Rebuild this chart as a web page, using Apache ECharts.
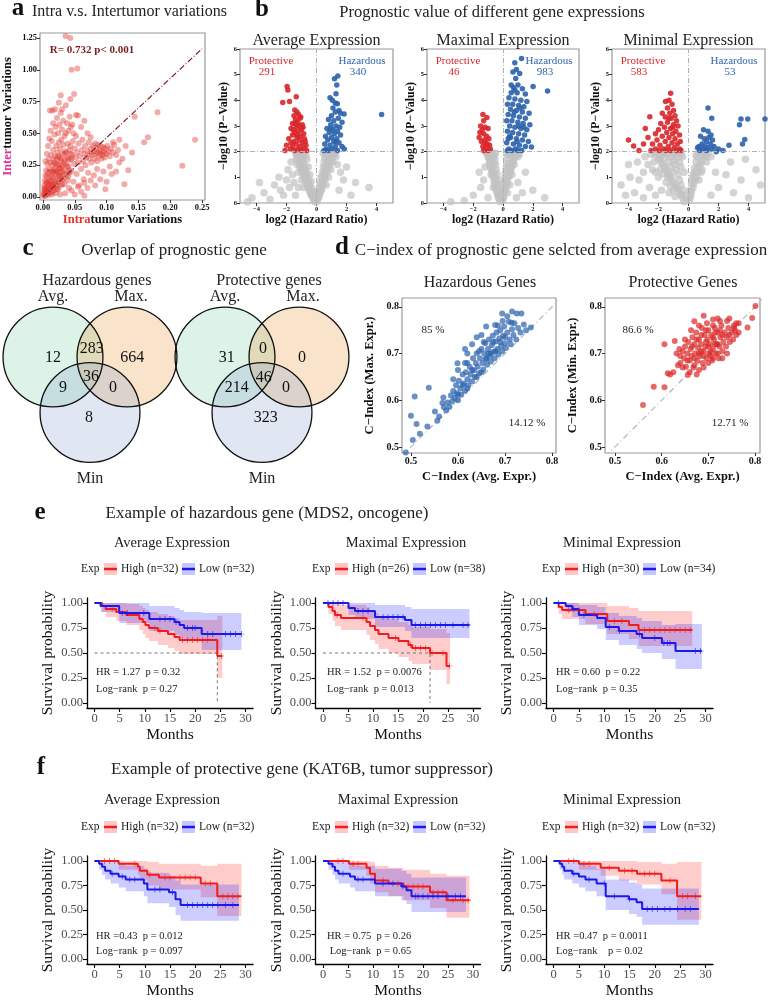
<!DOCTYPE html>
<html><head><meta charset="utf-8">
<script src="https://cdn.jsdelivr.net/npm/echarts@6/dist/echarts.min.js"></script>
<style>html,body{margin:0;padding:0;background:#fff}#c{width:772px;height:1000px}</style>
</head><body><div id="c"></div><script>
// ---------------- DATA ----------------
// Panel a: intra (x) vs inter (y) tumor variations
const aPoints = [
[0.001,0.005],[0.002,0.02],[0.003,0.04],[0.004,0.01],[0.005,0.06],[0.006,0.03],[0.007,0.08],[0.008,0.015],[0.009,0.05],[0.01,0.1],[0.011,0.03],[0.012,0.07],[0.013,0.12],[0.014,0.02],[0.015,0.09],[0.016,0.15],[0.017,0.05],[0.018,0.11],[0.019,0.18],[0.02,0.03],[0.021,0.08],[0.022,0.14],[0.023,0.2],[0.024,0.06],[0.025,0.12],[0.026,0.17],[0.027,0.02],[0.028,0.09],[0.029,0.23],[0.03,0.14],
[0.002,0.09],[0.003,0.13],[0.004,0.17],[0.005,0.21],[0.006,0.12],[0.007,0.26],[0.008,0.19],[0.009,0.3],[0.01,0.22],[0.011,0.16],[0.012,0.27],[0.013,0.33],[0.014,0.2],[0.015,0.25],[0.016,0.37],[0.017,0.29],[0.018,0.22],[0.019,0.32],[0.02,0.26],[0.021,0.4],[0.022,0.3],[0.023,0.35],[0.024,0.25],[0.025,0.43],[0.026,0.31],[0.027,0.38],[0.028,0.28],[0.029,0.45],[0.03,0.34],[0.031,0.2],
[0.032,0.41],[0.033,0.27],[0.034,0.1],[0.035,0.36],[0.036,0.5],[0.037,0.17],[0.038,0.31],[0.039,0.42],[0.04,0.24],[0.041,0.07],[0.042,0.37],[0.043,0.29],[0.044,0.55],[0.045,0.2],[0.046,0.33],[0.047,0.44],[0.048,0.12],[0.049,0.26],[0.05,0.38],[0.051,0.31],[0.052,0.48],[0.053,0.18],[0.054,0.35],[0.055,0.27],[0.056,0.42],[0.057,0.09],[0.058,0.32],[0.06,0.22],[0.061,0.37],[0.062,0.45],
[0.063,0.28],[0.064,0.14],[0.065,0.34],[0.066,0.4],[0.067,0.25],[0.068,0.31],[0.07,0.36],[0.071,0.19],[0.072,0.43],[0.073,0.3],[0.074,0.34],[0.075,0.38],[0.076,0.27],[0.078,0.33],[0.079,0.4],[0.08,0.36],[0.081,0.3],[0.082,0.42],[0.083,0.34],[0.084,0.38],[0.085,0.28],[0.086,0.35],[0.087,0.41],[0.088,0.32],[0.089,0.37],[0.09,0.34],[0.091,0.4],[0.092,0.3],[0.093,0.36],[0.094,0.33],
[0.095,0.39],[0.096,0.35],[0.097,0.31],[0.098,0.38],[0.1,0.34],[0.101,0.4],[0.103,0.36],[0.105,0.32],[0.107,0.38],[0.11,0.35],[0.112,0.41],[0.115,0.33],[0.118,0.37],
[0.004,0.28],[0.006,0.34],[0.008,0.4],[0.01,0.46],[0.012,0.52],[0.014,0.44],[0.016,0.58],[0.018,0.49],[0.02,0.55],[0.022,0.62],[0.024,0.5],[0.026,0.57],[0.028,0.66],[0.03,0.53],[0.032,0.6],[0.034,0.48],[0.038,0.58],[0.04,0.52],[0.042,0.63],[0.046,0.57],[0.048,0.5],[0.011,0.68],[0.015,0.68],[0.019,0.69],[0.03,0.69],[0.025,0.74],[0.052,0.645],[0.055,0.64],[0.028,0.8],[0.043,0.77],[0.049,0.81],[0.036,0.72],
[0.0355,1.266],[0.043,1.25],[0.045,1.0],[0.054,1.01],[0.144,0.63],[0.18,0.665],[0.239,0.45],[0.165,0.47],[0.159,0.43],[0.219,0.245],[0.134,0.21],[0.128,0.1],[0.108,0.18],[0.06,0.55],[0.065,0.6],[0.07,0.5],[0.075,0.47],[0.12,0.45],[0.11,0.43],[0.13,0.4],[0.125,0.3],[0.14,0.35],
[0.035,0.03],[0.045,0.05],[0.05,0.02],[0.055,0.08],[0.06,0.04],[0.065,0.11],[0.07,0.07],[0.075,0.13],[0.08,0.17],[0.085,0.22],[0.09,0.14],[0.095,0.2],[0.1,0.12],[0.105,0.24],[0.115,0.2],[0.12,0.27],[0.065,0.01],[0.082,0.09],[0.098,0.06],
[0.003,0.07],[0.006,0.16],[0.009,0.12],[0.012,0.2],[0.015,0.04],[0.018,0.27],[0.021,0.19],[0.024,0.32],[0.027,0.23],[0.03,0.1],[0.033,0.18],[0.036,0.26],[0.039,0.13],[0.042,0.21],[0.045,0.3],[0.016,0.1],[0.022,0.06],[0.028,0.16],[0.034,0.34],[0.04,0.16],
[0.001,0.03],[0.002,0.06],[0.004,0.05],[0.005,0.11],[0.007,0.04],[0.008,0.09],[0.01,0.06],[0.011,0.13],[0.013,0.09],[0.014,0.16],[0.016,0.07],[0.017,0.2],[0.019,0.13],[0.02,0.21],[0.022,0.1],[0.023,0.26],[0.025,0.16],[0.026,0.22],[0.028,0.19],[0.029,0.3],[0.031,0.25],[0.032,0.14],[0.034,0.29],[0.035,0.21],[0.037,0.35],[0.038,0.24],[0.04,0.3],[0.041,0.19],[0.043,0.4],[0.044,0.34]
];
const aFit = [[0,0],[0.25,1.165]];
const aStat = 'R= 0.732 p< 0.001';
const aXTicks = [0,0.05,0.1,0.15,0.2,0.25];
const aYTicks = [0,0.25,0.5,0.75,1,1.25];

// Panel b: volcano plots [log2 HR, -log10 p]
const volTitles = ['Average Expression','Maximal Expression','Minimal Expression'];
const volProtN = [291,46,583];
const volHazN = [340,983,53];
const volXTicks = [-4,-2,0,2,4];
const volYTicks = [0,1,2,3,4,5,6];
const volGray1 = [[-0.1,0.05],[-0.2,0.15],[-0.3,0.25],[-0.15,0.3],[-0.4,0.35],[-0.25,0.45],[-0.5,0.5],[-0.35,0.6],[-0.6,0.65],[-0.45,0.75],[-0.7,0.8],[-0.55,0.9],[-0.8,0.95],[-0.6,1.05],[-0.9,1.1],[-0.7,1.2],[-1.0,1.25],[-0.75,1.35],[-1.1,1.4],[-0.85,1.5],[-1.15,1.55],[-0.9,1.65],[-1.25,1.7],[-0.95,1.8],[-1.3,1.85],[-1.05,1.9],[-0.8,1.95],[-1.2,1.98],[-1.4,1.95],[-0.65,1.7],[-0.55,1.4],[-0.45,1.1],[-0.35,0.85],[-1.3,1.5],[-1.2,1.2],[-1.0,0.9],[-0.85,0.6],
[0.05,0.1],[0.1,0.25],[0.2,0.35],[0.08,0.45],[0.3,0.5],[0.18,0.6],[0.4,0.7],[0.25,0.8],[0.5,0.9],[0.3,1.0],[0.55,1.1],[0.4,1.2],[0.65,1.3],[0.45,1.4],[0.75,1.5],[0.5,1.6],[0.85,1.65],[0.55,1.75],[0.9,1.8],[0.6,1.9],[1.0,1.95],[0.7,1.98],[1.2,1.9],[1.1,1.6],[0.95,1.3],[0.8,1.0],[0.65,0.7],[1.3,1.8],[0.45,1.95],
[-4.3,0.2],[-3.5,0.4],[-2.8,0.7],[-3.1,0.15],[-2.4,0.5],[-2.0,0.9],[-2.2,0.3],[-1.8,0.6],[-1.6,1.1],[-1.9,1.3],[-1.5,0.8],[-2.5,1.0],[-1.7,1.6],[-4.6,0.05],[-3.8,0.8],[1.5,0.5],[1.8,0.9],[2.3,0.3],[1.6,1.2],[2.6,0.8],[3.5,0.6],[1.4,1.5],[2.0,1.4],[-1.4,0.3],[-1.2,0.6],
[-0.15,0.1],[-0.25,0.3],[-0.35,0.4],[-0.45,0.55],[-0.55,0.7],[-0.65,0.85],[-0.75,1.0],[-0.85,1.15],[-0.95,1.3],[-1.05,1.45],[-1.1,1.6],[-1.15,1.75],[-1.0,1.7],[-0.9,1.35],[-0.8,1.25],[-0.7,0.95],[-0.6,0.8],[-0.5,0.65],[-0.4,0.5],[-0.3,0.35],[-1.25,1.9],[-0.95,1.97],[-0.7,1.85],[-1.35,1.7],
[0.0,0.05],[0.15,0.2],[0.25,0.4],[0.35,0.55],[0.45,0.75],[0.55,0.95],[0.65,1.15],[0.75,1.3],[0.85,1.45],[0.95,1.6],[1.05,1.75],[1.1,1.9],[0.8,1.85],[0.7,1.6],[0.6,1.4],[0.5,1.2],[0.4,1.0],[0.3,0.75],[0.2,0.5],[0.85,1.97],[1.25,1.98],[0.65,1.9]];
const volRed1 = [[-1.96,4.54],[-1.91,4.4],[-2.25,3.92],[-1.8,3.95],[-1.35,4.14],[-1.45,3.62],[-1.3,3.55],[-1.2,3.45],[-1.5,3.4],[-1.1,3.3],[-1.4,3.25],[-1.25,3.15],[-1.6,3.1],[-0.95,3.05],[-1.15,3.0],[-1.35,2.95],[-1.7,2.9],[-1.0,2.85],[-1.2,2.8],[-1.45,2.75],[-0.85,2.7],[-1.6,2.65],[-1.05,2.6],[-1.3,2.55],[-1.85,2.5],[-0.8,2.5],[-1.15,2.45],[-1.5,2.4],[-0.95,2.35],[-1.35,2.3],[-2.0,2.25],[-0.7,2.25],[-1.1,2.2],[-1.6,2.2],[-0.85,2.15],[-1.25,2.1],[-1.75,2.1],[-0.65,2.05],[-1.0,2.05],[-1.45,2.05],[-2.1,2.05],[-0.75,2.4],[-1.55,2.85],[-1.25,2.65],[-0.9,2.95],[-1.4,3.1],[-1.05,3.35],[-1.7,2.35]];
const volBlue1 = [[1.42,4.95],[1.2,4.84],[1.35,4.6],[1.3,4.26],[0.9,4.1],[1.06,4.0],[1.39,3.87],[1.84,3.47],[4.34,3.45],[1.6,3.5],[1.25,3.55],[1.0,3.4],[1.45,3.3],[0.8,3.25],[1.15,3.2],[1.7,3.15],[0.95,3.05],[1.3,3.0],[1.55,2.95],[0.7,2.9],[1.1,2.85],[1.4,2.8],[0.85,2.75],[1.2,2.7],[1.6,2.65],[0.6,2.6],[1.0,2.55],[1.35,2.5],[0.75,2.45],[1.15,2.4],[1.5,2.35],[0.55,2.3],[0.9,2.25],[1.25,2.2],[1.7,2.2],[0.65,2.1],[1.05,2.1],[1.4,2.05],[0.5,2.05],[0.8,2.05],[1.85,2.1],[1.3,2.4],[0.95,2.9],[1.5,3.6],[1.1,3.7],[1.25,3.9]];
const volGray2 = [[-0.2,0.05],[-0.3,0.2],[-0.15,0.3],[-0.4,0.4],[-0.25,0.5],[-0.5,0.6],[-0.3,0.7],[-0.55,0.8],[-0.35,0.9],[-0.6,1.0],[-0.4,1.1],[-0.7,1.2],[-0.45,1.3],[-0.75,1.4],[-0.5,1.5],[-0.85,1.6],[-0.55,1.7],[-0.95,1.75],[-0.6,1.85],[-1.05,1.9],[-0.75,1.95],[-1.15,1.98],[-0.5,1.95],[-0.9,1.5],[-0.8,1.1],[-0.65,0.6],
[-0.05,0.1],[0.05,0.25],[-0.1,0.35],[0.1,0.45],[0.0,0.55],[0.2,0.65],[0.05,0.75],[0.3,0.85],[0.1,0.95],[0.4,1.05],[0.15,1.15],[0.5,1.25],[0.2,1.35],[0.6,1.45],[0.25,1.55],[0.7,1.65],[0.3,1.75],[0.8,1.8],[0.35,1.9],[0.95,1.95],[0.55,1.98],[1.1,1.9],[0.75,1.5],[0.6,1.1],[0.45,0.7],[0.3,0.4],
[-2.0,0.3],[-1.5,0.6],[-1.3,0.9],[-1.0,0.2],[-2.6,0.1],[-1.2,1.4],[1.3,0.4],[1.0,0.8],[1.5,1.2],[2.0,0.5],[0.9,0.2],[-3.5,0.05],[2.8,0.2],[-1.6,1.2],
[-0.25,0.15],[-0.35,0.3],[-0.45,0.5],[-0.55,0.65],[-0.6,0.85],[-0.7,1.05],[-0.75,1.25],[-0.85,1.4],[-0.9,1.65],[-1.0,1.8],[-0.65,1.75],[-0.6,1.55],[-0.55,1.2],[-0.5,0.95],[-0.4,0.75],[-0.85,1.95],[-1.05,1.97],
[0.0,0.15],[0.05,0.4],[0.15,0.55],[0.25,0.7],[0.35,1.0],[0.45,1.2],[0.55,1.35],[0.65,1.6],[0.75,1.75],[0.9,1.85],[0.45,1.85],[0.4,1.55],[0.3,1.3],[0.2,1.05],[0.15,0.85],[0.7,1.97],[1.0,1.8],[0.25,1.95]];
const volRed2 = [[-1.35,3.45],[-1.08,3.33],[-1.3,3.2],[-1.5,3.0],[-1.2,2.95],[-1.0,2.9],[-1.55,2.75],[-1.3,2.7],[-1.1,2.6],[-1.6,2.55],[-0.95,2.5],[-1.25,2.45],[-1.45,2.4],[-1.05,2.3],[-0.9,2.25],[-1.35,2.2],[-1.15,2.15],[-0.85,2.1],[-1.0,2.05],[-1.3,2.05],[-1.2,2.35],[-1.4,2.85]];
const volBlue2 = [[1.24,5.63],[0.79,5.46],[0.67,5.1],[1.12,5.05],[0.9,5.2],[2.02,4.54],[2.99,4.36],[1.91,2.18],[0.85,4.85],[1.0,4.6],[0.7,4.5],[1.3,4.45],[0.55,4.3],[0.95,4.3],[1.5,4.25],[0.4,4.1],[0.8,4.05],[1.2,4.0],[1.6,3.95],[0.3,3.85],[0.65,3.85],[1.05,3.8],[1.4,3.75],[0.5,3.65],[0.9,3.6],[1.3,3.55],[1.75,3.5],[0.35,3.45],[0.7,3.4],[1.1,3.35],[1.5,3.3],[0.25,3.2],[0.6,3.2],[1.0,3.15],[1.35,3.1],[1.8,3.05],[0.45,3.0],[0.8,2.95],[1.2,2.9],[1.6,2.85],[0.3,2.8],[0.65,2.75],[1.05,2.7],[1.45,2.65],[0.5,2.55],[0.9,2.5],[1.3,2.45],[1.7,2.4],[0.25,2.35],[0.7,2.3],[1.1,2.25],[1.5,2.2],[0.4,2.1],[0.85,2.1],[1.25,2.05],[0.3,2.05],[0.6,2.05],[1.0,2.05],[0.45,2.6],[0.75,3.55],[1.15,3.7],[0.55,4.6],[0.35,2.5],[0.95,2.4],[1.4,2.95],[0.8,4.4],[1.05,3.0]];
const volGray3 = [[-0.3,0.05],[-0.4,0.2],[-0.2,0.3],[-0.6,0.4],[-0.35,0.5],[-0.8,0.6],[-0.5,0.7],[-1.0,0.8],[-0.6,0.9],[-1.2,1.0],[-0.7,1.1],[-1.4,1.2],[-0.8,1.3],[-1.6,1.4],[-0.9,1.5],[-1.8,1.55],[-1.0,1.65],[-2.0,1.7],[-1.2,1.8],[-2.2,1.85],[-1.4,1.9],[-0.7,1.95],[-1.7,1.97],[-2.5,1.9],[-1.1,1.2],[-1.5,0.8],[-2.0,1.0],[-2.4,1.3],[-1.8,0.5],[-2.7,1.5],[-3.0,1.2],[-2.6,0.6],[-3.3,0.9],[-3.6,0.4],[-3.9,1.0],[-4.2,0.3],[-4.5,0.7],[-3.0,0.2],[-2.2,0.3],[-1.3,0.4],[-0.9,0.25],[-3.4,1.6],[-2.9,1.8],[-4.0,1.5],[-0.5,1.4],[-0.4,1.8],[-1.9,1.3],[-1.6,1.75],
[0.05,0.1],[0.15,0.3],[0.1,0.5],[0.3,0.6],[0.2,0.8],[0.45,0.9],[0.3,1.1],[0.6,1.2],[0.4,1.35],[0.75,1.45],[0.5,1.6],[0.9,1.65],[0.6,1.8],[1.1,1.85],[0.7,1.95],[1.3,1.95],[0.9,1.3],[1.2,1.6],[0.7,0.9],[1.5,1.8],
[2.0,0.6],[2.5,1.1],[3.0,0.4],[3.5,0.9],[4.0,0.2],[4.5,1.3],[2.8,1.6],[1.8,1.2],[1.5,0.3],[4.8,0.7],[3.8,1.7],
[-0.5,0.3],[-0.7,0.55],[-0.9,0.7],[-1.1,0.9],[-1.3,1.1],[-1.5,1.3],[-1.7,1.5],[-1.9,1.7],[-2.1,1.95],[-0.8,1.75],[-1.0,1.95],[-1.3,1.6],[-1.6,1.95],[-1.2,1.4],[-0.6,1.6],[-0.9,1.9],[-1.4,1.0],[-1.7,1.15],[-2.3,1.6],[-1.0,0.5],[-0.3,1.2],[-0.5,1.9],[-1.9,1.85],[-2.2,1.2],[-1.2,0.65],
[0.1,0.2],[0.2,0.45],[0.35,0.75],[0.5,1.0],[0.6,1.4],[0.8,1.55],[0.95,1.8],[0.5,1.85],[0.4,1.2],[1.0,1.98],[0.85,1.2],[1.2,1.8],[0.25,0.95]];
const volRed3 = [[-4.0,2.45],[-3.66,2.22],[-3.3,2.05],[-2.88,2.9],[-2.58,3.36],[-1.75,3.5],[-1.19,4.28],[-1.53,3.95],[-2.7,2.55],[-2.2,2.7],[-2.4,2.3],[-3.0,2.3],[-1.3,4.0],[-1.1,3.85],[-1.4,3.7],[-1.0,3.6],[-1.25,3.5],[-0.9,3.4],[-1.55,3.35],[-1.15,3.3],[-0.8,3.2],[-1.4,3.15],[-1.85,3.1],[-1.0,3.05],[-0.7,3.0],[-1.6,2.95],[-1.2,2.9],[-2.0,2.85],[-0.85,2.8],[-1.45,2.75],[-1.05,2.7],[-0.6,2.65],[-1.75,2.6],[-1.3,2.55],[-0.9,2.5],[-2.1,2.45],[-0.55,2.4],[-1.55,2.4],[-1.1,2.35],[-0.75,2.3],[-1.9,2.25],[-1.35,2.2],[-0.95,2.15],[-0.6,2.1],[-2.2,2.1],[-1.65,2.1],[-1.2,2.05],[-0.8,2.05],[-0.5,2.05],[-1.5,2.05],[-1.95,2.05],[-2.5,2.05],[-1.05,2.95],[-1.3,3.3]];
const volBlue3 = [[1.3,3.7],[1.55,3.3],[3.5,3.27],[3.95,3.27],[5.1,3.27],[3.4,3.05],[3.75,2.47],[3.6,2.3],[2.7,2.25],[1.0,2.85],[0.8,2.6],[1.35,2.55],[1.6,2.45],[1.2,2.4],[0.9,2.3],[1.45,2.3],[0.7,2.2],[1.1,2.2],[1.7,2.2],[0.6,2.15],[1.3,2.15],[0.95,2.1],[1.55,2.1],[2.0,2.1],[0.75,2.05],[1.2,2.05],[1.85,2.0],[2.3,2.05],[1.05,2.5],[1.5,2.65],[1.3,2.8]];

// Panel c: Venn counts, regions: [Avg only, Avg∩Max, Max only, Avg∩Min, all, Max∩Min, Min only]
const vennSets = ['Avg.','Max.','Min'];
const vennHaz = [12,283,664,9,36,0,8];
const vennProt = [31,0,0,214,46,0,323];

// Panel d: C-index pairs [avg, max/min]
const dHaz = [[0.489,0.488],[0.5,0.567],[0.504,0.515],[0.508,0.608],[0.512,0.549],[0.519,0.528],[0.535,0.544],[0.538,0.627],[0.551,0.576],[0.56,0.565],[0.556,0.556],[0.569,0.606],[0.567,0.594],[0.599,0.679],[0.615,0.71],[0.62,0.68],[0.694,0.786],[0.725,0.786],[0.735,0.786],[0.755,0.756],[0.714,0.766],[0.679,0.761],
[0.575,0.578],[0.578,0.595],[0.582,0.586],[0.585,0.61],[0.588,0.598],[0.59,0.62],[0.593,0.605],[0.596,0.632],[0.598,0.615],[0.6,0.6],[0.602,0.642],[0.605,0.625],[0.607,0.612],[0.61,0.655],[0.612,0.636],[0.615,0.62],[0.617,0.66],[0.62,0.645],[0.622,0.632],[0.625,0.672],[0.627,0.655],[0.63,0.64],[0.632,0.69],[0.634,0.664],[0.636,0.65],[0.638,0.68],[0.64,0.7],[0.642,0.672],[0.645,0.658],[0.647,0.69],[0.65,0.71],[0.652,0.68],[0.654,0.666],[0.656,0.7],[0.658,0.722],[0.66,0.688],[0.662,0.676],[0.664,0.71],[0.666,0.73],[0.668,0.695],[0.67,0.683],[0.672,0.718],[0.674,0.738],[0.676,0.704],[0.678,0.69],[0.68,0.726],[0.682,0.745],[0.684,0.71],[0.686,0.698],[0.688,0.732],[0.69,0.75],[0.692,0.716],[0.694,0.705],[0.696,0.738],[0.698,0.758],[0.7,0.722],[0.702,0.712],[0.705,0.745],[0.708,0.768],[0.71,0.73],[0.712,0.72],[0.715,0.752],[0.718,0.74],[0.72,0.765],[0.724,0.73],[0.728,0.755],[0.733,0.745],[0.74,0.762],[0.745,0.75],[0.62,0.7],[0.63,0.72],[0.64,0.735],[0.65,0.74],[0.66,0.758],[0.615,0.68],[0.6,0.665],[0.59,0.645],[0.645,0.705],[0.655,0.725],[0.665,0.7],[0.675,0.725],[0.685,0.76],[0.695,0.77],[0.705,0.78],[0.715,0.79],[0.66,0.69],[0.67,0.7],[0.68,0.705],[0.69,0.725],[0.7,0.735],[0.64,0.65],[0.65,0.66],[0.63,0.665],[0.62,0.625],[0.61,0.632],[0.6,0.612],[0.57,0.585]];
const dProt = [[0.56,0.59],[0.583,0.629],[0.606,0.628],[0.606,0.72],[0.613,0.658],[0.618,0.655],[0.628,0.727],[0.67,0.769],[0.69,0.781],[0.801,0.802],[0.794,0.776],[0.784,0.756],[0.765,0.765],[0.656,0.654],[0.625,0.66],[0.632,0.7],[0.64,0.695],[0.745,0.775],[0.755,0.76],[0.72,0.775],[0.71,0.773],[0.675,0.655],
[0.64,0.68],[0.645,0.705],[0.648,0.69],[0.65,0.715],[0.652,0.672],[0.655,0.7],[0.657,0.725],[0.66,0.685],[0.662,0.71],[0.664,0.695],[0.666,0.735],[0.668,0.67],[0.67,0.72],[0.672,0.7],[0.674,0.745],[0.676,0.685],[0.678,0.712],[0.68,0.73],[0.682,0.695],[0.684,0.72],[0.686,0.755],[0.688,0.68],[0.69,0.705],[0.692,0.74],[0.694,0.715],[0.696,0.69],[0.698,0.73],[0.7,0.75],[0.702,0.7],[0.704,0.72],[0.706,0.74],[0.708,0.685],[0.71,0.71],[0.712,0.73],[0.714,0.755],[0.716,0.7],[0.718,0.72],[0.72,0.745],[0.722,0.69],[0.724,0.715],[0.726,0.735],[0.728,0.76],[0.73,0.705],[0.732,0.725],[0.735,0.745],[0.738,0.715],[0.74,0.735],[0.743,0.755],[0.746,0.725],[0.75,0.745],[0.753,0.73],[0.757,0.75],[0.76,0.74],[0.765,0.745],[0.66,0.66],[0.67,0.675],[0.68,0.665],[0.69,0.67],[0.7,0.68],[0.71,0.69],[0.72,0.7],[0.73,0.69],[0.74,0.7],[0.675,0.73],[0.685,0.705],[0.695,0.725],[0.705,0.705],[0.715,0.72],[0.725,0.75],[0.665,0.715],[0.655,0.685],[0.645,0.67],[0.635,0.675],[0.638,0.71],[0.65,0.73],[0.663,0.75],[0.68,0.76],[0.697,0.765],[0.71,0.76],[0.725,0.77],[0.74,0.77],[0.76,0.765],[0.7,0.715],[0.69,0.695],[0.68,0.7],[0.67,0.69],[0.71,0.735],[0.72,0.72],[0.73,0.74],[0.745,0.74],[0.755,0.755],[0.695,0.75],[0.685,0.74],[0.705,0.695],[0.715,0.745]];
const dDiag = [[0.4,0.4],[0.9,0.9]];
const dPct = [['85 %','14.12 %'],['86.6 %','12.71 %']];
const dTicks = [0.5,0.6,0.7,0.8];

// Panels e/f: Kaplan-Meier steps (t = step start months, s = survival, lo/hi = 95% CI, end = last follow-up, cens = censor times)
const e1High = {t:[0,1.5,2.2,4.3,6.3,8.9,9.6,10.1,10.8,12.6,14.6,15.9,16.9,24.4], s:[1,0.97,0.94,0.91,0.88,0.84,0.81,0.78,0.75,0.72,0.69,0.66,0.63,0.47], lo:[1,0.91,0.86,0.82,0.78,0.73,0.69,0.65,0.62,0.58,0.55,0.52,0.49,0.25], hi:[1,1,1,1,0.99,0.97,0.95,0.93,0.91,0.89,0.87,0.85,0.83,0.87], end:25.4, cens:[3.5,12,13,17.5,18.5,19.5,20.5,21.5,22.5,25.2]};
const e1Low = {t:[0,1.2,4.9,10.9,15.9,16.9,17.8,21.3], s:[1,0.97,0.9,0.84,0.81,0.78,0.75,0.69], lo:[1,0.91,0.8,0.72,0.68,0.65,0.62,0.53], hi:[1,1,1,0.97,0.95,0.93,0.91,0.9], end:29.2, cens:[5.5,6.5,9.8,13,14,15,16.2,18.5,19.5,20,22.5,23.5,26,27,28,29.2]};
const e2High = {t:[0,1.1,1.9,2.4,3.6,8.7,9.4,10.4,11.1,13.1,15.1,17.1,17.8,21.4,24.7], s:[1,0.96,0.92,0.88,0.85,0.81,0.77,0.73,0.69,0.65,0.62,0.58,0.55,0.5,0.37], lo:[1,0.89,0.82,0.77,0.73,0.68,0.63,0.59,0.54,0.5,0.46,0.42,0.39,0.33,0.19], hi:[1,1,1,0.99,0.98,0.96,0.93,0.9,0.87,0.84,0.81,0.78,0.76,0.74,0.7], end:25.4, cens:[2.8,8,14.5,17.5,18.5,19.5,20.5,21.8,24,25.3]};
const e2Low = {t:[0,5.1,6.4,10.4,16.4,17.7], s:[1,0.95,0.92,0.86,0.83,0.78], lo:[1,0.88,0.84,0.76,0.72,0.65], hi:[1,1,1,0.98,0.96,0.94], end:29.3, cens:[1,2,3,4,7,8,9,12,13,14,15,16,18.5,19.5,20.5,21.5,22.5,23.5,24.5,26,28,29]};
const e3High = {t:[0,1.0,1.7,6.3,10.6,14.9,16.8], s:[1,0.96,0.93,0.89,0.82,0.78,0.73], lo:[1,0.89,0.84,0.79,0.69,0.64,0.57], hi:[1,1,1,1,0.97,0.95,0.92], end:27.4, cens:[3,5,8,12,13.5,18,19,20,21,22,23,24,25,26,27]};
const e3Low = {t:[0,2.4,3.7,5.0,8.6,10.3,12.9,16.4,17.5,21.4,24.1], s:[1,0.97,0.94,0.88,0.85,0.76,0.72,0.69,0.65,0.6,0.52], lo:[1,0.91,0.86,0.78,0.74,0.63,0.58,0.54,0.5,0.44,0.34], hi:[1,1,1,0.98,0.96,0.9,0.87,0.85,0.82,0.78,0.79], end:29.3, cens:[1,4,6,11,13,17,20,21.8,22.5,23,28,29]};
const f1High = {t:[0,4.8,8.6,9.0,10.5,12.8,21.1,24.4], s:[1,0.97,0.94,0.9,0.86,0.83,0.77,0.64], lo:[1,0.91,0.86,0.8,0.75,0.71,0.63,0.44], hi:[1,1,1,1,0.99,0.97,0.95,0.97], end:29.2, cens:[2,3,4,8,11,14,15,17,18,19,20,22,23,25.5,26.5,27.5,28.5]};
const f1Low = {t:[0,0.9,1.5,2.1,3.2,4.8,6.2,9.8,10.5,14.8,16.1,17.1], s:[1,0.97,0.94,0.9,0.87,0.84,0.81,0.77,0.71,0.68,0.61,0.55], lo:[1,0.91,0.86,0.81,0.77,0.73,0.69,0.64,0.57,0.53,0.45,0.39], hi:[1,1,1,1,0.99,0.97,0.95,0.92,0.88,0.85,0.8,0.76], end:28.7, cens:[3.5,5.5,7,8,12,13,15.5,18.5,19.5,20.5,21.5,22.5,23.5,24.5,26,27.5]};
const f2High = {t:[0,5.2,8.7,9.4,10.4,13.1,16.1,21.4,24.7], s:[1,0.97,0.93,0.87,0.8,0.77,0.74,0.68,0.6], lo:[1,0.91,0.85,0.77,0.68,0.64,0.6,0.52,0.42], hi:[1,1,1,0.99,0.95,0.93,0.91,0.87,0.85], end:29.3, cens:[3,4,6,7,12,15,17,18,19,20,22,23,24,26,28,29]};
const f2Low = {t:[0,1.1,1.9,2.4,3.1,5.4,6.4,10.4,15.7,16.7,17.7], s:[1,0.97,0.94,0.9,0.87,0.84,0.81,0.77,0.74,0.7,0.64], lo:[1,0.91,0.86,0.81,0.77,0.73,0.69,0.64,0.6,0.56,0.48], hi:[1,1,1,1,0.99,0.97,0.95,0.92,0.9,0.87,0.83], end:28.6, cens:[4,7,8,12,14,16,18.5,19,20,21,22,23,25,26.5,27.5]};
const f3High = {t:[0,5.0,9.3,12.9,16.5,21.3,24.4], s:[1,0.97,0.93,0.9,0.87,0.8,0.64], lo:[1,0.91,0.85,0.8,0.76,0.66,0.4], hi:[1,1,1,1,0.99,0.97,0.99], end:29.2, cens:[3,4,6,7,11,14,15.5,18,19,20,23,25.5,26.5,28]};
const f3Low = {t:[0,1.2,1.7,2.1,3.7,5.0,6.3,8.5,10.3,14.9,16.4,17.5], s:[1,0.97,0.94,0.9,0.87,0.84,0.81,0.77,0.64,0.61,0.58,0.51], lo:[1,0.91,0.86,0.81,0.77,0.73,0.69,0.64,0.5,0.46,0.43,0.35], hi:[1,1,1,1,0.99,0.97,0.95,0.92,0.81,0.78,0.76,0.72], end:28.7, cens:[4,7,10,12,15,18.5,19.5,20.5,22,23,24.5,26,27]};
const kmTitles = ['Average Expression','Maximal Expression','Minimal Expression'];
const eN = [['High (n=32)','Low (n=32)'],['High (n=26)','Low (n=38)'],['High (n=30)','Low (n=34)']];
const fN = [['High (n=32)','Low (n=32)'],['High (n=32)','Low (n=32)'],['High (n=32)','Low (n=32)']];
const eStats = [['HR = 1.27  p = 0.32','Log\u2212rank  p = 0.27'],['HR = 1.52  p = 0.0076','Log\u2212rank  p = 0.013'],['HR = 0.60  p = 0.22','Log\u2212rank  p = 0.35']];
const fStats = [['HR =0.43  p = 0.012','Log\u2212rank  p = 0.097'],['HR = 0.75  p = 0.26',' Log\u2212rank  p = 0.65'],['HR =0.47  p = 0.0011','Log\u2212rank    p = 0.02']];
const eMedian = [24.4, 21.4, null];
const kmXTicks = [0,5,10,15,20,25,30];
const kmYTicks = [0,0.25,0.5,0.75,1];

// ---------------- LAYOUT / BUILD ----------------
const SERIF = 'Liberation Serif';
const grids = [], xAxes = [], yAxes = [], series = [], graphic = [];
function addGrid(box, xa, ya) {
  const i = grids.length;
  grids.push(Object.assign({show:false}, box));
  xAxes.push(Object.assign({gridIndex:i, type:'value', splitLine:{show:false}}, xa));
  yAxes.push(Object.assign({gridIndex:i, type:'value', splitLine:{show:false}}, ya));
  return i;
}
function txt(x, y, text, size, o) {
  o = o || {};
  graphic.push({type:'text', x:x, y:y, silent:true, z:50, style:{text:text, fill:o.fill||'#222',
    font:(o.weight||'normal')+' '+size+'px "'+SERIF+'"', textAlign:o.align||'center', textVerticalAlign:'middle'}});
}
function frameAxis(min, max, ticks, fmt, lblSize, name, gap, nameSize, rich) {
  return {min:min, max:max, axisLine:{show:false, onZero:false},
    axisTick:{show:true, customValues:ticks, length:3, lineStyle:{color:'#333', width:1}},
    axisLabel:{customValues:ticks, formatter:fmt, fontFamily:SERIF, fontWeight:'bold', fontSize:lblSize, color:'#111', margin:3},
    name:name, nameLocation:'middle', nameGap:gap,
    nameTextStyle:{fontFamily:SERIF, fontWeight:'bold', fontSize:nameSize, color:'#111', rich:rich||{}}};
}
const frameBox = {show:true, borderColor:'#9a9a9a', borderWidth:1.2};
const minus = v => (v < 0 ? '\u2212' + Math.abs(v) : String(v));

// Panel a
txt(18, 9, 'a', 25, {weight:'bold', fill:'#111'});
txt(32, 12, 'Intra v.s. Intertumor variations', 16, {align:'left'});
const ga = addGrid(Object.assign({left:37, top:33, width:168, height:167}, frameBox),
  frameAxis(-0.0046, 0.2546, aXTicks, v => v.toFixed(2), 8.5, '{r|Intra}tumor Variations', 12, 12.5,
    {r:{color:'#e8302a', fontWeight:'bold', fontSize:12.5, fontFamily:SERIF}}),
  frameAxis(-0.024, 1.289, aYTicks, v => v.toFixed(2), 8.5, '{m|Inter}tumor Variations', 26, 12.5,
    {m:{color:'#e0339b', fontWeight:'bold', fontSize:12.5, fontFamily:SERIF}}));
series.push({type:'scatter', xAxisIndex:ga, yAxisIndex:ga, data:aPoints, symbolSize:6,
  itemStyle:{color:'#e0362f', opacity:0.42}, silent:true});
series.push({type:'line', xAxisIndex:ga, yAxisIndex:ga, data:aFit, symbol:'none', silent:true, z:5,
  lineStyle:{color:'#7b1a1a', width:1.1, type:[6,2,1,2]}});
txt(92, 50, aStat, 11, {weight:'bold', fill:'#7a1c1c'});

// Panel b
txt(262, 10, 'b', 25, {weight:'bold', fill:'#111'});
txt(492, 13, 'Prognostic value of different gene expressions', 16.5);
const volBoxes = [{left:240, width:153},{left:427, width:152},{left:612, width:153}];
const volGray = [volGray1, volGray2, volGray3], volRed = [volRed1, volRed2, volRed3], volBlue = [volBlue1, volBlue2, volBlue3];
volBoxes.forEach((b, k) => {
  const g = addGrid(Object.assign({left:b.left, top:49, width:b.width, height:154}, frameBox),
    frameAxis(-5.1, 5.1, volXTicks, minus, 6.5, 'log2 (Hazard Ratio)', 9, 12),
    frameAxis(0, 6, volYTicks, minus, 6.5, '\u2212log10 (P\u2212Value)', 8, 12));
  series.push({type:'scatter', xAxisIndex:g, yAxisIndex:g, data:volGray[k], symbolSize:7.5, silent:true,
    itemStyle:{color:'#c2c2c2', opacity:0.7},
    markLine:{silent:true, symbol:['none','none'], label:{show:false},
      lineStyle:{color:'#b0b0b0', width:1, type:[5,2,1,2]}, data:[{xAxis:0},{yAxis:2}]}});
  series.push({type:'scatter', xAxisIndex:g, yAxisIndex:g, data:volRed[k], symbolSize:5.5, silent:true,
    itemStyle:{color:'#d9262b', opacity:0.9}});
  series.push({type:'scatter', xAxisIndex:g, yAxisIndex:g, data:volBlue[k], symbolSize:5.5, silent:true,
    itemStyle:{color:'#2b62ad', opacity:0.9}});
  const cx = b.left + b.width / 2;
  txt(cx, 41, volTitles[k], 16);
  txt(b.left + 31, 61, 'Protective', 11, {fill:'#d9262b'});
  txt(b.left + 27, 72, String(volProtN[k]), 11, {fill:'#d9262b'});
  txt(b.left + 122, 61, 'Hazardous', 11, {fill:'#2e63ad'});
  txt(b.left + 118, 72, String(volHazN[k]), 11, {fill:'#2e63ad'});
});

// Panel c: Venn diagrams
txt(28, 249, 'c', 25, {weight:'bold', fill:'#111'});
txt(174, 251, 'Overlap of prognostic gene', 17);
const vennCircles = [[-1,0,1.35,0],[1,0,1.35,1],[0,-1.5,1.35,2]];
const vennFill = ['rgba(123,207,163,0.26)','rgba(231,147,55,0.26)','rgba(135,163,203,0.26)'];
const vennPosHaz = [[-1.0,-0.03],[0.05,0.22],[1.14,-0.03],[-0.73,-0.84],[0.03,-0.54],[0.62,-0.84],[-0.03,-1.65]];
const vennPosProt = [[-0.95,-0.03],[0.03,0.22],[1.08,-0.03],[-0.68,-0.84],[0.05,-0.57],[0.65,-0.84],[0.1,-1.65]];
[[1.2, vennHaz, vennPosHaz, 'Hazardous genes'],[173.2, vennProt, vennPosProt, 'Protective genes']].forEach((v, k) => {
  const g = addGrid({left:v[0], top:301.5, width:177.6, height:166.5},
    {min:-2.4, max:2.4, show:false}, {min:-3, max:1.5, show:false});
  series.push({type:'custom', xAxisIndex:g, yAxisIndex:g, data:vennCircles, silent:true, z:2,
    renderItem:(p, api) => {
      const c = api.coord([api.value(0), api.value(1)]);
      const r = api.size([api.value(2), 0])[0];
      return {type:'circle', shape:{cx:c[0], cy:c[1], r:r}, style:{fill:vennFill[api.value(3)], stroke:null}};
    }});
  series.push({type:'custom', xAxisIndex:g, yAxisIndex:g, data:vennCircles, silent:true, z:3,
    renderItem:(p, api) => {
      const c = api.coord([api.value(0), api.value(1)]);
      const r = api.size([api.value(2), 0])[0];
      return {type:'circle', shape:{cx:c[0], cy:c[1], r:r}, style:{fill:null, stroke:'#111', lineWidth:1.3}};
    }});
  series.push({type:'scatter', xAxisIndex:g, yAxisIndex:g, silent:true, z:4, symbolSize:1,
    itemStyle:{color:'rgba(0,0,0,0)'},
    data:v[2].map((p, i) => [p[0], p[1], v[1][i]]),
    label:{show:true, position:'inside', formatter:q => String(q.value[2]), fontFamily:SERIF, fontSize:16, color:'#111', opacity:1}});
  const cx = v[0] + 88.8;
  txt(cx + 7, 281, v[3], 16);
  txt(cx - 37, 297, vennSets[0], 16);
  txt(cx + 41, 297, vennSets[1], 16);
  txt(cx, 479, vennSets[2], 16);
});

// Panel d
txt(342, 248, 'd', 25, {weight:'bold', fill:'#111'});
txt(561, 251, 'C\u2212index of prognostic gene selcted from average expression', 17);
const dBoxes = [{left:402, min:0.481, max:0.8085, title:'Hazardous Genes', yName:'C\u2212Index (Max. Expr.)', data:dHaz, color:'#2b62ad'},
                {left:605, min:0.4786, max:0.8107, title:'Protective Genes', yName:'C\u2212Index (Min. Expr.)', data:dProt, color:'#dc2a2a'}];
dBoxes.forEach((b, k) => {
  const g = addGrid(Object.assign({left:b.left, top:298, width:b.left === 402 ? 154 : 155, height:155}, frameBox),
    frameAxis(b.min, b.max, dTicks, v => v.toFixed(1), 10, 'C\u2212Index (Avg. Expr.)', 17, 12.5),
    frameAxis(0.487, 0.819, dTicks, v => v.toFixed(1), 10, b.yName, 26, 12.5));
  series.push({type:'line', xAxisIndex:g, yAxisIndex:g, data:dDiag, symbol:'none', silent:true, z:1,
    lineStyle:{color:'#b5b5b5', width:1.2, type:[6,3,1,3]}});
  series.push({type:'scatter', xAxisIndex:g, yAxisIndex:g, data:b.data, symbolSize:6, silent:true, z:3,
    itemStyle:{color:b.color, opacity:0.7}});
  txt(b.left + 78, 283, b.title, 16);
  txt(b.left + (k ? 33 : 31), 330, dPct[k][0], 11);
  txt(b.left + 125, 423, dPct[k][1], 11);
});

// Panels e/f: Kaplan-Meier
const RED = '#f21c1c', BLUE = '#1a1aee';
function survAt(c, t) { let s = 1; for (let i = 0; i < c.t.length; i++) { if (c.t[i] <= t) s = c.s[i]; } return s; }
function kmCurve(g, c, color, fill) {
  series.push({type:'custom', xAxisIndex:g, yAxisIndex:g, data:[[c.t[0], c.s[0]]], silent:true, z:1,
    renderItem:(p, api) => {
      const n = c.t.length, pts = [];
      for (let i = 0; i < n; i++) { const t1 = i < n - 1 ? c.t[i + 1] : c.end; pts.push(api.coord([c.t[i], c.hi[i]]), api.coord([t1, c.hi[i]])); }
      for (let i = n - 1; i >= 0; i--) { const t1 = i < n - 1 ? c.t[i + 1] : c.end; pts.push(api.coord([t1, c.lo[i]]), api.coord([c.t[i], c.lo[i]])); }
      return {type:'polygon', shape:{points:pts}, style:{fill:fill}};
    }});
  const line = c.t.map((t, i) => [t, c.s[i]]);
  line.push([c.end, c.s[c.s.length - 1]]);
  series.push({type:'line', xAxisIndex:g, yAxisIndex:g, data:line, step:'end', symbol:'none', silent:true, z:3,
    lineStyle:{color:color, width:2}});
  series.push({type:'scatter', xAxisIndex:g, yAxisIndex:g, data:c.cens.map(t => [t, survAt(c, t)]), silent:true, z:4,
    symbol:'path://M-0.12,-1H0.12V-0.12H1V0.12H0.12V1H-0.12V0.12H-1V-0.12H-0.12Z', symbolSize:6,
    itemStyle:{color:color}});
}
function kmLegend(x0, y, labels) {
  graphic.push({type:'text', x:x0, y:y, silent:true, style:{text:'Exp', fill:'#222', font:'11.5px "'+SERIF+'"', textAlign:'left', textVerticalAlign:'middle'}});
  [[23, RED, 'rgba(255,0,0,0.22)', labels[0], 40],[101, BLUE, 'rgba(0,0,255,0.22)', labels[1], 118]].forEach(it => {
    graphic.push({type:'rect', x:x0 + it[0], y:y - 6, shape:{width:13, height:12}, silent:true, style:{fill:it[2]}});
    graphic.push({type:'line', silent:true, shape:{x1:x0 + it[0], y1:y, x2:x0 + it[0] + 13, y2:y}, style:{stroke:it[1], lineWidth:2.5}});
    graphic.push({type:'text', x:x0 + it[4], y:y, silent:true, style:{text:it[3], fill:'#222', font:'11.5px "'+SERIF+'"', textAlign:'left', textVerticalAlign:'middle'}});
  });
}
function kmAxisX() {
  return {min:-1.5, max:31.5, axisLine:{show:true, onZero:false, lineStyle:{color:'#000', width:1.3}},
    axisTick:{show:true, customValues:kmXTicks, length:4, lineStyle:{color:'#000', width:1.1}},
    axisLabel:{customValues:kmXTicks, fontFamily:SERIF, fontSize:12.5, color:'#4d4d4d', margin:4},
    name:'Months', nameLocation:'middle', nameGap:19, nameTextStyle:{fontFamily:SERIF, fontSize:15.5, color:'#111'}};
}
function kmAxisY() {
  return {min:-0.05, max:1.05, axisLine:{show:true, onZero:false, lineStyle:{color:'#000', width:1.3}},
    axisTick:{show:true, customValues:kmYTicks, length:4, lineStyle:{color:'#000', width:1.1}},
    axisLabel:{customValues:kmYTicks, formatter:v => v.toFixed(2), fontFamily:SERIF, fontSize:12.5, color:'#4d4d4d', margin:4},
    name:'Survival probability', nameLocation:'middle', nameGap:31, nameTextStyle:{fontFamily:SERIF, fontSize:15.5, color:'#111'}};
}
const kmBoxes = [{left:87, width:166, legX:81, statX:96},{left:315.5, width:165, legX:312, statX:327},{left:546, width:167, legX:542, statX:556}];
const rows = [
  {top:598, height:110, sub:543, subX:[172,406,622], leg:569, stat:[672,689], curves:[[e1High,e1Low],[e2High,e2Low],[e3High,e3Low]], n:eN, stats:eStats, med:eMedian},
  {top:856, height:109, sub:800, subX:[162,398,622], leg:827, stat:[936,951], curves:[[f1High,f1Low],[f2High,f2Low],[f3High,f3Low]], n:fN, stats:fStats, med:[null,null,null]}
];
txt(40, 513, 'e', 25, {weight:'bold', fill:'#111'});
txt(267, 514, 'Example of hazardous gene (MDS2, oncogene)', 17);
txt(41, 768, 'f', 25, {weight:'bold', fill:'#111'});
txt(302, 770, 'Example of protective gene (KAT6B, tumor suppressor)', 17);
rows.forEach(r => {
  kmBoxes.forEach((b, k) => {
    const g = addGrid({left:b.left, top:r.top, width:b.width, height:r.height}, kmAxisX(), kmAxisY());
    kmCurve(g, r.curves[k][0], RED, 'rgba(255,0,0,0.2)');
    kmCurve(g, r.curves[k][1], BLUE, 'rgba(0,0,255,0.2)');
    if (r.med[k] != null) {
      series.push({type:'line', xAxisIndex:g, yAxisIndex:g, silent:true, z:5, symbol:'none',
        data:[[0,0.5],[r.med[k],0.5],[r.med[k],0]], lineStyle:{color:'#555', width:0.8, type:[3,3]}});
    }
    txt(r.subX[k], r.sub, kmTitles[k], 14.5);
    kmLegend(b.legX, r.leg, r.n[k]);
    txt(b.statX, r.stat[0], r.stats[k][0], 10.5, {align:'left'});
    txt(b.statX, r.stat[1], r.stats[k][1], 10.5, {align:'left'});
  });
});

const chart = echarts.init(document.getElementById('c'), null, {renderer:'canvas', width:772, height:1000});
chart.setOption({animation:false, backgroundColor:'#fff', grid:grids, xAxis:xAxes, yAxis:yAxes, series:series, graphic:graphic});
</script></body></html>
